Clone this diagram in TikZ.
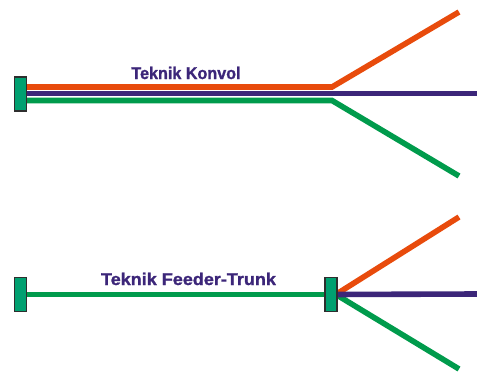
\documentclass[tikz,border=0pt]{standalone}
\usepackage{fontspec}
\setmainfont{Liberation Sans}
\newfontfamily\heavyfont[FakeBold=1.2]{Liberation Sans Bold}
\definecolor{cOrange}{HTML}{E84B0C}
\definecolor{cPurple}{HTML}{3C2679}
\definecolor{cGreen}{HTML}{009B4C}
\definecolor{cBox}{HTML}{00A070}
\definecolor{cEdge}{HTML}{2E2E2E}
\tikzset{
  cable/.style={line width=5.6pt},
  conn/.style={draw=cEdge, fill=cBox, line width=1.8pt, minimum width=12pt, minimum height=34pt, inner sep=0pt},
  lbl/.style={text=cPurple, font=\heavyfont\fontsize{17}{19}\selectfont, inner sep=0pt, anchor=base}
}
\begin{document}
\begin{tikzpicture}[x=1pt,y=-1pt]
\useasboundingbox (0,0) rectangle (477,373);
% top
\coordinate (oS) at (25,87);
\coordinate (oB) at (332,87);
\coordinate (oE) at (459,12);
\coordinate (pS) at (25,93.5);
\coordinate (pE) at (477,93.5);
\coordinate (gS) at (25,100.5);
\coordinate (gB) at (332,100.5);
\coordinate (gE) at (459,176);
\draw[cable, cOrange] (oS) -- (oB) -- (oE);
\draw[cable, cPurple] (pS) -- (pE);
\draw[cable, cGreen] (gS) -- (gB) -- (gE);
\node[conn] (boxA) at (20.5,94) {};
\node[lbl] (t1) at (186,79) {\scalebox{0.95}[1]{Teknik Konvol}};
% bottom
\node[conn] (boxB) at (20.5,294.5) {};
\node[conn] (boxC) at (331,294.5) {};
\draw[cable, cGreen] (boxB.center) -- (boxC.center);
\coordinate (o2E) at (459,217);
\coordinate (p2E) at (477,294);
\coordinate (g2E) at (459,369);
\draw[cable, cOrange] ([yshift=-3pt]boxC.center) -- (o2E);
\draw[cable, cGreen] ([yshift=3pt]boxC.center) -- (g2E);
\draw[cable, cPurple] (boxC.center) -- (p2E);
\node[conn] at (boxB) {};
\node[conn] at (boxC) {};
\node[lbl] (t2) at (188.5,285) {\scalebox{1.06}[1]{Teknik Feeder-Trunk}};
\end{tikzpicture}
\end{document}
